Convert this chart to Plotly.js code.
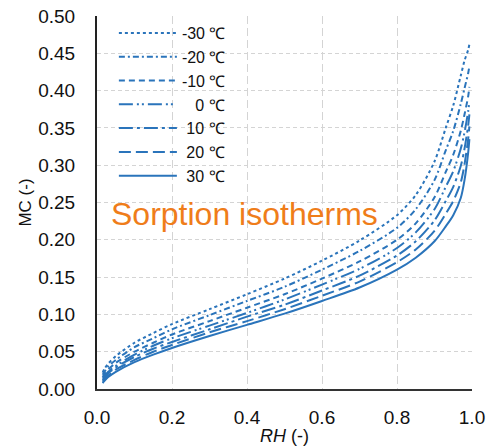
<!DOCTYPE html>
<html>
<head>
<meta charset="utf-8">
<script src="https://cdn.plot.ly/plotly-3.0.1.min.js"></script>
<style>html,body{margin:0;padding:0;background:#fff;}#chart{width:495px;height:446px;}</style>
</head>
<body>
<div id="chart"></div>
<script>
// Relative humidity grid (read along x)
const rh = [0.015, 0.02, 0.03, 0.05, 0.1, 0.15, 0.2, 0.3, 0.4, 0.5, 0.6, 0.7, 0.8, 0.85, 0.9, 0.93, 0.95, 0.97, 0.98, 0.99, 0.993];

// Moisture content per temperature
const mcM30 = [0.022, 0.027, 0.034, 0.044, 0.062, 0.075, 0.087, 0.107, 0.127, 0.148, 0.172, 0.199, 0.233, 0.260, 0.305, 0.350, 0.380, 0.420, 0.440, 0.455, 0.462];
const mcM20 = [0.019, 0.023, 0.030, 0.039, 0.056, 0.068, 0.080, 0.099, 0.118, 0.137, 0.160, 0.185, 0.216, 0.241, 0.280, 0.320, 0.346, 0.382, 0.403, 0.424, 0.433];
const mcM10 = [0.016, 0.020, 0.026, 0.035, 0.050, 0.062, 0.073, 0.091, 0.109, 0.127, 0.148, 0.171, 0.200, 0.222, 0.257, 0.291, 0.314, 0.346, 0.368, 0.393, 0.405];
const mc0   = [0.014, 0.017, 0.023, 0.031, 0.046, 0.058, 0.068, 0.085, 0.102, 0.120, 0.140, 0.161, 0.189, 0.210, 0.241, 0.271, 0.292, 0.322, 0.344, 0.373, 0.386];
const mc10  = [0.012, 0.015, 0.021, 0.029, 0.043, 0.054, 0.063, 0.080, 0.097, 0.113, 0.132, 0.152, 0.179, 0.198, 0.226, 0.252, 0.271, 0.299, 0.322, 0.354, 0.368];
const mc20  = [0.010, 0.013, 0.018, 0.026, 0.039, 0.050, 0.059, 0.076, 0.091, 0.107, 0.125, 0.144, 0.170, 0.187, 0.212, 0.235, 0.252, 0.277, 0.301, 0.336, 0.352];
const mc30  = [0.008, 0.011, 0.016, 0.023, 0.036, 0.046, 0.055, 0.071, 0.086, 0.101, 0.118, 0.136, 0.160, 0.176, 0.198, 0.218, 0.233, 0.256, 0.280, 0.318, 0.335];

const seriesNames = ['-30 \u2103', '-20 \u2103', '-10 \u2103', '\u2007\u00a00 \u2103', '\u00a010 \u2103', '\u00a020 \u2103', '\u00a030 \u2103'];
const seriesValues = [mcM30, mcM20, mcM10, mc0, mc10, mc20, mc30];
const dashes = ['dot', '6px,3px,2px,3px', '6px,4px', '14px,4px,2px,3px,2px,4px', '14px,4px,3px,4px', '12px,5px', 'solid'];

const blue = '#2a74bb';
const traces = seriesValues.map((v, i) => ({
  x: rh, y: v, type: 'scatter', mode: 'lines', name: seriesNames[i],
  line: {color: blue, width: 2, dash: dashes[i], shape: 'spline', smoothing: 0.8}
}));

const layout = {
  width: 495, height: 446,
  margin: {l: 97, r: 23, t: 16, b: 57},
  paper_bgcolor: '#fff', plot_bgcolor: '#fff',
  font: {family: 'Liberation Sans, Arial, sans-serif', color: '#111'},
  showlegend: true,
  legend: {x: 0.045, y: 1.0, xanchor: 'left', yanchor: 'top', bgcolor: 'rgba(0,0,0,0)',
           font: {size: 16, color: '#111'}, itemwidth: 58, tracegroupgap: 0},
  xaxis: {range: [0, 1], dtick: 0.2, tick0: 0, tickformat: '.1f',
          showgrid: true, gridcolor: '#d4d4d4', griddash: '8px,4px', gridwidth: 1,
          showline: true, linecolor: '#333', linewidth: 2, zeroline: false,
          ticks: '', ticklabelstandoff: 10, tickfont: {size: 19, color: '#111'},
          title: {text: '<i>RH</i> (-)', font: {size: 18, color: '#111'}, standoff: 4}},
  yaxis: {range: [0, 0.5], dtick: 0.05, tick0: 0, tickformat: '.2f',
          showgrid: true, gridcolor: '#d4d4d4', griddash: '4px,3px', gridwidth: 1,
          showline: true, linecolor: '#222', linewidth: 2, zeroline: false,
          ticks: '', ticklabelstandoff: 16, tickfont: {size: 19, color: '#111'},
          title: {text: 'MC (-)', font: {size: 17, color: '#111'}, standoff: 2}},
  annotations: [{text: 'Sorption isotherms', xref: 'paper', yref: 'paper',
                 x: 0.392, y: 0.47, xanchor: 'center', yanchor: 'middle', showarrow: false,
                 font: {size: 32, color: '#ef7d1a', family: 'Liberation Sans, Arial, sans-serif'}}]
};

Plotly.newPlot('chart', traces, layout, {displayModeBar: false, staticPlot: true});
</script>
</body>
</html>
